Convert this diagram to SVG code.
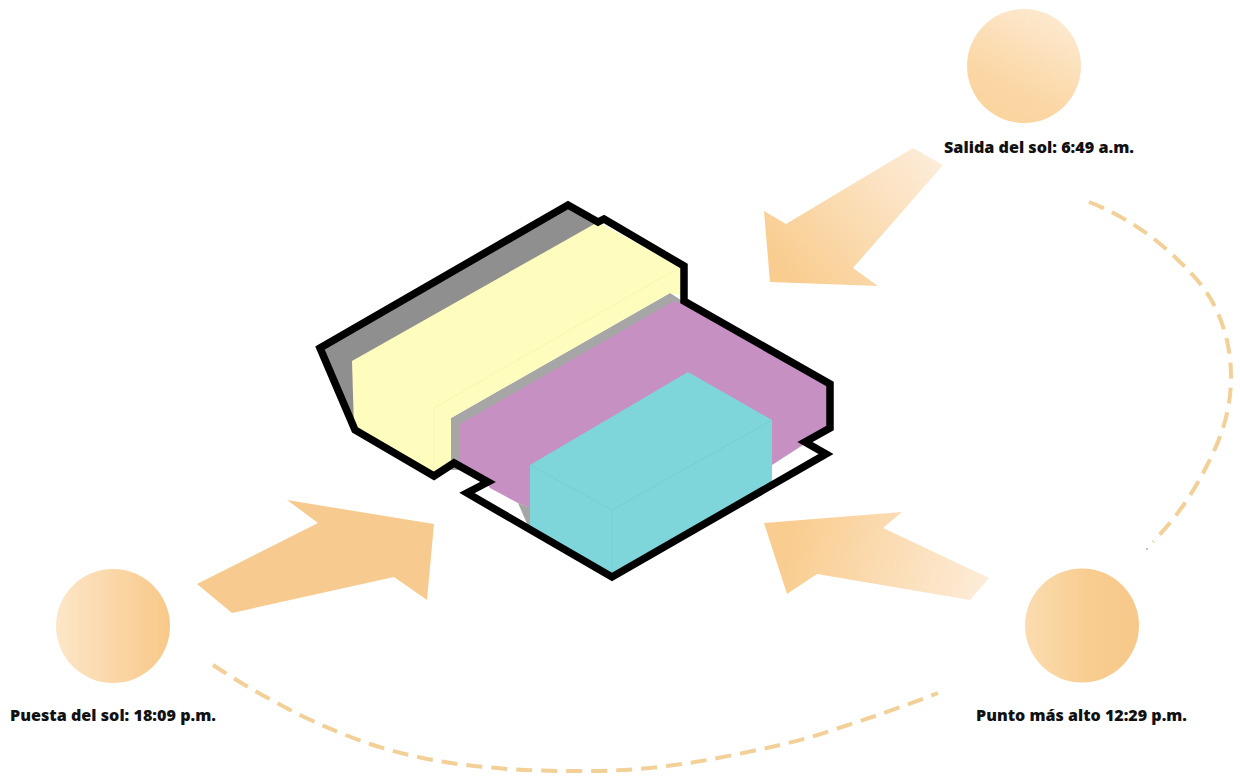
<svg xmlns="http://www.w3.org/2000/svg" width="1240" height="776" viewBox="0 0 1240 776">
<style>
.lbl{font-family:"Open Sans","Noto Sans","Liberation Sans",sans-serif;font-weight:800;font-size:15.5px;fill:#111}
.dash{fill:none;stroke:#f2d098;stroke-width:4;stroke-dasharray:16 9}
.edge{fill:none;stroke-width:1}
</style>
<defs>
<linearGradient id="gSunTop" x1="0.75" y1="0.05" x2="0.3" y2="0.9"><stop offset="0" stop-color="#fde9cf"/><stop offset="0.75" stop-color="#fbd7a5"/><stop offset="1" stop-color="#fbd5a0"/></linearGradient>
<linearGradient id="gSunLeft" x1="0" y1="0" x2="1" y2="0"><stop offset="0" stop-color="#fde6c8"/><stop offset="1" stop-color="#f8c888"/></linearGradient>
<linearGradient id="gSunRight" x1="0" y1="0" x2="1" y2="0"><stop offset="0" stop-color="#fbdcb0"/><stop offset="0.55" stop-color="#f8cd90"/><stop offset="1" stop-color="#f7c88a"/></linearGradient>
<linearGradient id="gArrowTop" gradientUnits="userSpaceOnUse" x1="930" y1="155" x2="790" y2="275"><stop offset="0" stop-color="#fdecd8"/><stop offset="1" stop-color="#f9cd90"/></linearGradient>
<linearGradient id="gArrowRight" gradientUnits="userSpaceOnUse" x1="985" y1="590" x2="790" y2="545"><stop offset="0" stop-color="#fdecd8"/><stop offset="1" stop-color="#f9cd90"/></linearGradient>
</defs>
<rect width="1240" height="776" fill="#fff"/>

<g id="building">
<polygon fill="#8f8f8f" points="319,348 568,204 604,222 360,361 360,434"/>
<polygon fill="#a6a6a6" points="451,418 670,293 684,302 684,320 460,470 451,470"/>
<polygon fill="#c790c3" points="460,424 672,302 684,302 828,384 828,428 803,445 772,465 600,560 530,508 518,503 490,488 485,480 454,464 460,460"/>
<polygon fill="#a6a6a6" points="518,503 531,508 531,527 528,526"/>
<polygon fill="#fefdbd" points="352,361 598,222 682,268 682,296 670,293 451,418 451,464 434,475 354,428"/>
<path class="edge" stroke="#f7f6b2" d="M434,408 L434,475 M434,408 L682,266"/>
<polygon fill="#7fd6da" points="530,465 688,372 772,420 772,483 612,577 530,528"/>
<path class="edge" stroke="#76cdd1" d="M530,465 L612,510 L772,420"/>
<path class="edge" stroke="#7ad1d5" d="M612,510 L612,577"/>
<polygon fill="none" stroke="#000" stroke-width="7.500" stroke-linejoin="miter" points="320,348 568,205 598,222 604,219 684,266 684,301 830,384 830,428 805,442 826,454 612,577 467,493 488,482 454,463 434,476 355,430"/>
</g>

<g id="arrow-top"><polygon fill="url(#gArrowTop)" points="913,148 943,165 853,268 878,286 770,282 764,211 786,224"/></g>
<g id="arrow-left"><polygon fill="#f7cb8f" points="197,584 318,523 287,500 434,524 427,600 394,577 232,613"/></g>
<g id="arrow-right"><polygon fill="url(#gArrowRight)" points="764,523 902,512 883,528 989,578 970,600 817,574 787,594"/></g>

<g id="connectors">
<path class="dash" d="M1089,202 C1125,216 1155,237 1180,262 C1196,277 1206,290 1213,303 C1226,328 1231,352 1231,377 C1231,405 1224,430 1213,453 C1205,470 1197,485 1187,500 C1177,515 1165,529 1153,542"/>
<path class="dash" d="M213,665 C240,683 270,700 300,715 C325,727 349,737 373,745 C414,758 455,765 497,768 C527,771 557,771 587,771 C637,771 685,765 733,755 C768,748 801,741 833,730 C870,718 905,706 938,693"/>
<circle cx="1147" cy="549" r="1" fill="#b9b0a0"/>
</g>

<g id="sun-salida">
<circle cx="1024" cy="66" r="57" fill="url(#gSunTop)"/>
<text class="lbl" x="944" y="152.500" textLength="190" lengthAdjust="spacingAndGlyphs">Salida del sol: 6:49 a.m.</text>
</g>
<g id="sun-puesta">
<circle cx="113" cy="626" r="57" fill="url(#gSunLeft)"/>
<text class="lbl" x="10" y="720.500" textLength="206" lengthAdjust="spacingAndGlyphs">Puesta del sol: 18:09 p.m.</text>
</g>
<g id="sun-punto">
<circle cx="1082" cy="625.500" r="57" fill="url(#gSunRight)"/>
<text class="lbl" x="976" y="720.500" textLength="211" lengthAdjust="spacingAndGlyphs">Punto más alto 12:29 p.m.</text>
</g>
</svg>
